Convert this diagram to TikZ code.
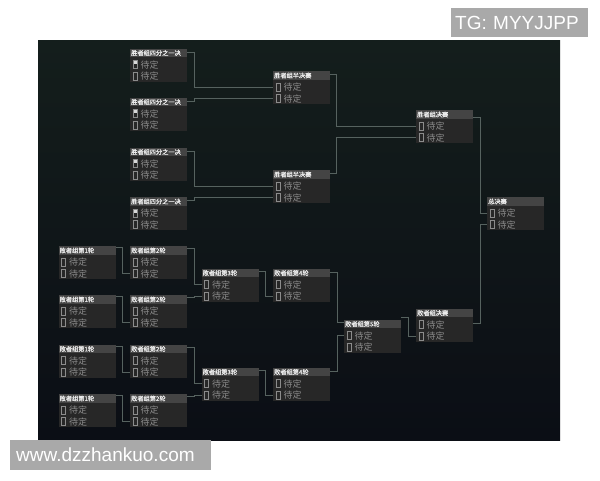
\documentclass[tikz,border=0pt]{standalone}
\usepackage{fontspec}
\newfontfamily\cjk{Noto Sans CJK SC}
\newfontfamily\cjkhead[FakeBold=1.2]{Noto Sans CJK SC}
\newfontfamily\wmfont{Liberation Sans}
\definecolor{bgtop}{HTML}{141E1C}
\definecolor{bgmid}{HTML}{1E302B}
\definecolor{bgbot}{HTML}{0B0E15}
\definecolor{boxbody}{HTML}{272727}
\definecolor{boxhead}{HTML}{444444}
\definecolor{slotgray}{HTML}{8C8C8C}
\definecolor{linkgray}{HTML}{56625F}
\definecolor{wmgray}{HTML}{A9A9A9}
\newcommand\slotbox{{\setlength\fboxsep{0pt}\setlength\fboxrule{0.6pt}\fbox{\rule{0pt}{7.5pt}\hspace{3.6pt}}}}
\newcommand\slotflag{{\setlength\fboxsep{0pt}\setlength\fboxrule{0.6pt}\fbox{\color{white!85!black}\rule[3.7pt]{3.6pt}{3.8pt}}}}
\begin{document}
\begin{tikzpicture}[x=1pt,y=-1pt,
  match/.style={anchor=north west, fill=boxbody, minimum width=57pt, minimum height=33pt, inner sep=0pt},
  head/.style={anchor=north west, fill=boxhead, text=white!92!black, font=\cjkhead\fontsize{6.2}{6.2}\selectfont, text width=55pt, inner xsep=1pt, inner ysep=0pt, minimum height=8.5pt, align=left},
  slot/.style={anchor=west, inner sep=0pt, text=slotgray, font=\cjk\fontsize{9}{9}\selectfont},
  link/.style={draw=linkgray, line width=0.7pt},
  wm/.style={fill=wmgray, text=white, font=\wmfont\fontsize{19}{19}\selectfont, inner ysep=0pt, align=left}]
\useasboundingbox (0,0) rectangle (600,480);
\fill[white] (0,0) rectangle (600,480);
\shade[top color=bgtop, middle color=bgmid, bottom color=bgbot] (38,40) rectangle (560,440);
\node (tg) [wm, anchor=north west, minimum height=29pt, text width=129pt, inner xsep=4pt] at (451,8) {TG: MYYJJPP};
\node (site) [wm, anchor=north west, minimum height=29.3pt, text width=188.7pt, inner xsep=6pt] at (10,440) {www.dzzhankuo.com};
\node (wq1) [match] at (130,48.5) {};
\node (wq1h) [head] at (130,48.5) {胜者组四分之一决};
\node (wq1-1) [slot] at (132.5,64.5) {\slotflag\hspace{3pt}待定};
\node (wq1-2) [slot] at (132.5,76) {\slotbox\hspace{3pt}待定};
\node (wq2) [match] at (130,97.5) {};
\node (wq2h) [head] at (130,97.5) {胜者组四分之一决};
\node (wq2-1) [slot] at (132.5,113.5) {\slotflag\hspace{3pt}待定};
\node (wq2-2) [slot] at (132.5,125) {\slotbox\hspace{3pt}待定};
\node (wq3) [match] at (130,147.5) {};
\node (wq3h) [head] at (130,147.5) {胜者组四分之一决};
\node (wq3-1) [slot] at (132.5,163.5) {\slotflag\hspace{3pt}待定};
\node (wq3-2) [slot] at (132.5,175) {\slotbox\hspace{3pt}待定};
\node (wq4) [match] at (130,197) {};
\node (wq4h) [head] at (130,197) {胜者组四分之一决};
\node (wq4-1) [slot] at (132.5,213) {\slotflag\hspace{3pt}待定};
\node (wq4-2) [slot] at (132.5,224.5) {\slotbox\hspace{3pt}待定};
\node (ws1) [match] at (273,71) {};
\node (ws1h) [head] at (273,71) {胜者组半决赛};
\node (ws1-1) [slot] at (275.5,87) {\slotbox\hspace{3pt}待定};
\node (ws1-2) [slot] at (275.5,98.5) {\slotbox\hspace{3pt}待定};
\node (ws2) [match] at (273,170) {};
\node (ws2h) [head] at (273,170) {胜者组半决赛};
\node (ws2-1) [slot] at (275.5,186) {\slotbox\hspace{3pt}待定};
\node (ws2-2) [slot] at (275.5,197.5) {\slotbox\hspace{3pt}待定};
\node (wf) [match] at (416,110) {};
\node (wfh) [head] at (416,110) {胜者组决赛};
\node (wf-1) [slot] at (418.5,126) {\slotbox\hspace{3pt}待定};
\node (wf-2) [slot] at (418.5,137.5) {\slotbox\hspace{3pt}待定};
\node (gf) [match] at (487,197) {};
\node (gfh) [head] at (487,197) {总决赛};
\node (gf-1) [slot] at (489.5,213) {\slotbox\hspace{3pt}待定};
\node (gf-2) [slot] at (489.5,224.5) {\slotbox\hspace{3pt}待定};
\node (l1a) [match] at (58.5,246) {};
\node (l1ah) [head] at (58.5,246) {败者组第1轮};
\node (l1a-1) [slot] at (61,262) {\slotbox\hspace{3pt}待定};
\node (l1a-2) [slot] at (61,273.5) {\slotbox\hspace{3pt}待定};
\node (l1b) [match] at (58.5,295) {};
\node (l1bh) [head] at (58.5,295) {败者组第1轮};
\node (l1b-1) [slot] at (61,311) {\slotbox\hspace{3pt}待定};
\node (l1b-2) [slot] at (61,322.5) {\slotbox\hspace{3pt}待定};
\node (l1c) [match] at (58.5,344.5) {};
\node (l1ch) [head] at (58.5,344.5) {败者组第1轮};
\node (l1c-1) [slot] at (61,360.5) {\slotbox\hspace{3pt}待定};
\node (l1c-2) [slot] at (61,372) {\slotbox\hspace{3pt}待定};
\node (l1d) [match] at (58.5,394) {};
\node (l1dh) [head] at (58.5,394) {败者组第1轮};
\node (l1d-1) [slot] at (61,410) {\slotbox\hspace{3pt}待定};
\node (l1d-2) [slot] at (61,421.5) {\slotbox\hspace{3pt}待定};
\node (l2a) [match] at (130,246) {};
\node (l2ah) [head] at (130,246) {败者组第2轮};
\node (l2a-1) [slot] at (132.5,262) {\slotbox\hspace{3pt}待定};
\node (l2a-2) [slot] at (132.5,273.5) {\slotbox\hspace{3pt}待定};
\node (l2b) [match] at (130,295) {};
\node (l2bh) [head] at (130,295) {败者组第2轮};
\node (l2b-1) [slot] at (132.5,311) {\slotbox\hspace{3pt}待定};
\node (l2b-2) [slot] at (132.5,322.5) {\slotbox\hspace{3pt}待定};
\node (l2c) [match] at (130,344.5) {};
\node (l2ch) [head] at (130,344.5) {败者组第2轮};
\node (l2c-1) [slot] at (132.5,360.5) {\slotbox\hspace{3pt}待定};
\node (l2c-2) [slot] at (132.5,372) {\slotbox\hspace{3pt}待定};
\node (l2d) [match] at (130,394) {};
\node (l2dh) [head] at (130,394) {败者组第2轮};
\node (l2d-1) [slot] at (132.5,410) {\slotbox\hspace{3pt}待定};
\node (l2d-2) [slot] at (132.5,421.5) {\slotbox\hspace{3pt}待定};
\node (l3a) [match] at (201.5,268.5) {};
\node (l3ah) [head] at (201.5,268.5) {败者组第3轮};
\node (l3a-1) [slot] at (204,284.5) {\slotbox\hspace{3pt}待定};
\node (l3a-2) [slot] at (204,296) {\slotbox\hspace{3pt}待定};
\node (l3b) [match] at (201.5,367.5) {};
\node (l3bh) [head] at (201.5,367.5) {败者组第3轮};
\node (l3b-1) [slot] at (204,383.5) {\slotbox\hspace{3pt}待定};
\node (l3b-2) [slot] at (204,395) {\slotbox\hspace{3pt}待定};
\node (l4a) [match] at (273,268.5) {};
\node (l4ah) [head] at (273,268.5) {败者组第4轮};
\node (l4a-1) [slot] at (275.5,284.5) {\slotbox\hspace{3pt}待定};
\node (l4a-2) [slot] at (275.5,296) {\slotbox\hspace{3pt}待定};
\node (l4b) [match] at (273,367.5) {};
\node (l4bh) [head] at (273,367.5) {败者组第4轮};
\node (l4b-1) [slot] at (275.5,383.5) {\slotbox\hspace{3pt}待定};
\node (l4b-2) [slot] at (275.5,395) {\slotbox\hspace{3pt}待定};
\node (l5) [match] at (344,319.5) {};
\node (l5h) [head] at (344,319.5) {败者组第5轮};
\node (l5-1) [slot] at (346.5,335.5) {\slotbox\hspace{3pt}待定};
\node (l5-2) [slot] at (346.5,347) {\slotbox\hspace{3pt}待定};
\node (lf) [match] at (416,308.5) {};
\node (lfh) [head] at (416,308.5) {败者组决赛};
\node (lf-1) [slot] at (418.5,324.5) {\slotbox\hspace{3pt}待定};
\node (lf-2) [slot] at (418.5,336) {\slotbox\hspace{3pt}待定};
\draw [link] ([yshift=-3.5pt]wq1.north east) -- ++(6.5,0) |- (ws1.west |- ws1-1);
\draw [link] ([yshift=-3.5pt]wq2.north east) -- ++(6.5,0) |- (ws1.west |- ws1-2);
\draw [link] ([yshift=-3.5pt]wq3.north east) -- ++(6.5,0) |- (ws2.west |- ws2-1);
\draw [link] ([yshift=-3.5pt]wq4.north east) -- ++(6.5,0) |- (ws2.west |- ws2-2);
\draw [link] ([yshift=-3.5pt]ws1.north east) -- ++(6,0) |- (wf.west |- wf-1);
\draw [link] ([yshift=-3.5pt]ws2.north east) -- ++(6,0) |- (wf.west |- wf-2);
\draw [link] ([yshift=-7pt]wf.north east) -- ++(7,0) |- (gf.west |- gf-1);
\draw [link] ([yshift=-15pt]lf.north east) -- ++(7,0) |- (gf.west |- gf-2);
\draw [link] ([yshift=-1.5pt]l1a.north east) -- ++(6.5,0) |- (l2a.west |- l2a-2);
\draw [link] ([yshift=-1.5pt]l1b.north east) -- ++(6.5,0) |- (l2b.west |- l2b-2);
\draw [link] ([yshift=-1.5pt]l1c.north east) -- ++(6.5,0) |- (l2c.west |- l2c-2);
\draw [link] ([yshift=-1.5pt]l1d.north east) -- ++(6.5,0) |- (l2d.west |- l2d-2);
\draw [link] ([yshift=-2.5pt]l2a.north east) -- ++(6.5,0) |- (l3a.west |- l3a-1);
\draw [link] ([yshift=-2.5pt]l2b.north east) -- ++(6.5,0) |- (l3a.west |- l3a-2);
\draw [link] ([yshift=-2.5pt]l2c.north east) -- ++(6.5,0) |- (l3b.west |- l3b-1);
\draw [link] ([yshift=-2.5pt]l2d.north east) -- ++(6.5,0) |- (l3b.west |- l3b-2);
\draw [link] ([yshift=-3pt]l3a.north east) -- ++(6,0) |- (l4a.west |- l4a-2);
\draw [link] ([yshift=-3pt]l3b.north east) -- ++(6,0) |- (l4b.west |- l4b-2);
\draw [link] ([yshift=-4pt]l4a.north east) -- ++(6.5,0) |- ([yshift=-3pt]l5.north west);
\draw [link] ([yshift=-4pt]l4b.north east) -- ++(6.5,0) |- (l5.west |- l5-1);
\draw [link] ([yshift=2pt]l5.north east) -- ++(7,0) |- (lf.west |- lf-2);
\end{tikzpicture}
\end{document}
